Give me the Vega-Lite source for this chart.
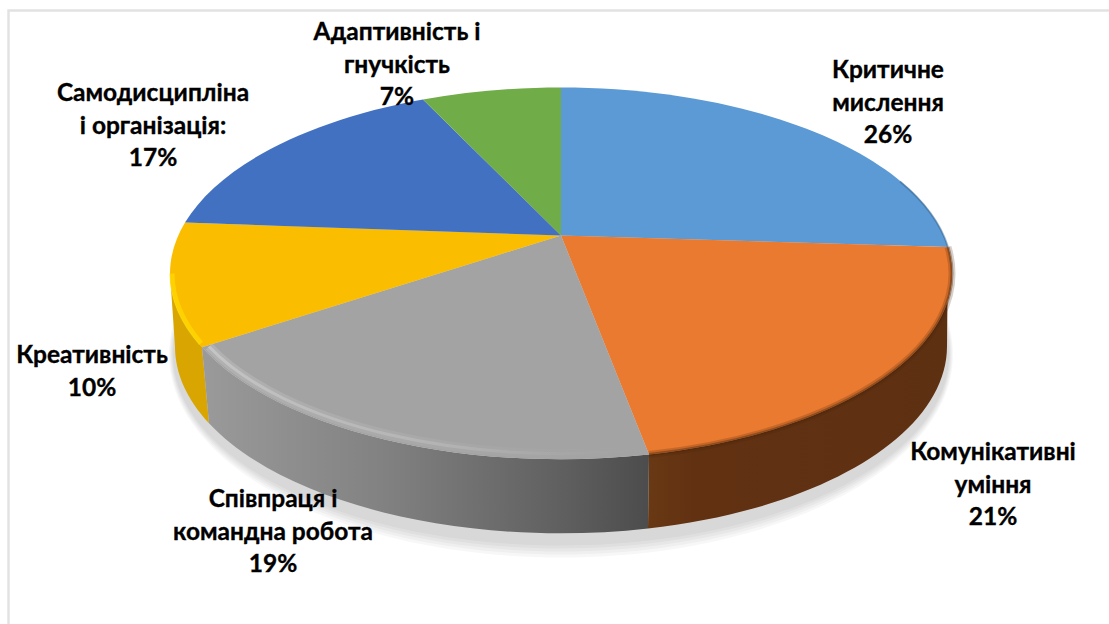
{
"$schema":"https://vega.github.io/schema/vega-lite/v6.json",
"width":1103,"height":616,
"autosize":{"type":"none"},
"padding":{"left":8.5,"top":10.5,"right":0,"bottom":0},
"background":"white",
"config":{"view":{"stroke":"#e2e2e2","strokeWidth":2.4}},
"data":{"values":[
{"skill":"Критичне мислення","share":26,"label":"Критичне\nмислення\n26%"},
{"skill":"Комунікативні уміння","share":21,"label":"Комунікативні\nуміння\n21%"},
{"skill":"Співпраця і командна робота","share":19,"label":"Співпраця і\nкомандна робота\n19%"},
{"skill":"Креативність","share":10,"label":"Креативність\n10%"},
{"skill":"Самодисципліна і організація","share":17,"label":"Самодисципліна\nі організація:\n17%"},
{"skill":"Адаптивність і гнучкість","share":7,"label":"Адаптивність і\nгнучкість\n7%"}
]},
"resolve":{"scale":{"shape":"independent","color":"independent"}},
"layer":[
{"transform":[{"filter":"datum.share==26"}],
 "mark":{"type":"point","filled":true,"size":4,"opacity":0.03,"fill":"#000000","stroke":null},
 "encoding":{"shape":{"field":"skill","legend":null,"scale":{"domain":["Критичне мислення"],"range":["M-391,36A392 203 0 1 1 393,36A392 203 0 1 1 -391,36Z"]}}}},
{"transform":[{"filter":"datum.share==26"}],
 "mark":{"type":"point","filled":true,"size":4,"opacity":0.03,"fill":"#000000","stroke":null},
 "encoding":{"shape":{"field":"skill","legend":null,"scale":{"domain":["Критичне мислення"],"range":["M-390,36A391 200 0 1 1 392,36A391 200 0 1 1 -390,36Z"]}}}},
{"transform":[{"filter":"datum.share==26"}],
 "mark":{"type":"point","filled":true,"size":4,"opacity":0.03,"fill":"#000000","stroke":null},
 "encoding":{"shape":{"field":"skill","legend":null,"scale":{"domain":["Критичне мислення"],"range":["M-389,36A390 197 0 1 1 391,36A390 197 0 1 1 -389,36Z"]}}}},
{"transform":[{"filter":"datum.share==26"}],
 "mark":{"type":"point","filled":true,"size":4,"opacity":0.03,"fill":"#000000","stroke":null},
 "encoding":{"shape":{"field":"skill","legend":null,"scale":{"domain":["Критичне мислення"],"range":["M-388,36A389 194 0 1 1 390,36A389 194 0 1 1 -388,36Z"]}}}},
{"transform":[{"filter":"datum.share==26"}],
 "mark":{"type":"point","filled":true,"size":4,"opacity":0.03,"fill":"#000000","stroke":null},
 "encoding":{"shape":{"field":"skill","legend":null,"scale":{"domain":["Критичне мислення"],"range":["M-387,36A388 191 0 1 1 389,36A388 191 0 1 1 -387,36Z"]}}}},
{"transform":[{"filter":"datum.share==21"}],
 "mark":{"type":"point","filled":true,"size":4,"opacity":1,"stroke":null,
  "fill":{"gradient":"linear","x1":0,"x2":1,"y1":0,"y2":0,"stops":[{"offset":0,"color":"#693914"},{"offset":0.15,"color":"#613112"},{"offset":1,"color":"#5e3012"}]}},
 "encoding":{"shape":{"field":"skill","legend":null,"scale":{"domain":["Комунікативні уміння"],"range":["M388,-71.5A391 186 0 0 1 89,136L88,210A386 187 0 0 0 387,28Z"]}}}},
{"transform":[{"filter":"datum.share==10"}],
 "mark":{"type":"point","filled":true,"size":4,"opacity":1,"stroke":null,"fill":"#d9a500"},
 "encoding":{"shape":{"field":"skill","legend":null,"scale":{"domain":["Креативність"],"range":["M-358,28.7A391 186 0 0 1 -390,-45L-385,28A386 187 0 0 0 -351,104.7Z"]}}}},
{"transform":[{"filter":"datum.share==19"}],
 "mark":{"type":"point","filled":true,"size":4,"opacity":1,"stroke":null,
  "fill":{"gradient":"linear","x1":0,"x2":1,"y1":0,"y2":0,"stops":[{"offset":0,"color":"#9a9a9a"},{"offset":0.4,"color":"#828282"},{"offset":0.8,"color":"#606060"},{"offset":1,"color":"#4c4c4c"}]}},
 "encoding":{"shape":{"field":"skill","legend":null,"scale":{"domain":["Співпраця і командна робота"],"range":["M89,136A391 186 0 0 1 -358,28.7L-351,104.7A386 187 0 0 0 88,210Z"]}}}},
{"mark":{"type":"point","filled":true,"size":4,"opacity":1,"stroke":null},
 "encoding":{
  "shape":{"field":"skill","legend":null,"scale":{"domain":["Критичне мислення","Комунікативні уміння","Співпраця і командна робота","Креативність","Самодисципліна і організація","Адаптивність і гнучкість"],
   "range":["M1,-83L1,-231A391 186 0 0 1 388,-71.5Z","M1,-83L388,-71.5A391 186 0 0 1 89,136Z","M1,-83L89,136A391 186 0 0 1 -358,28.7Z","M1,-83L-358,28.7A391 186 0 0 1 -375,-96Z","M1,-83L-375,-96A391 186 0 0 1 -137,-219Z","M1,-83L-137,-219A391 186 0 0 1 1,-231Z"]}},
  "color":{"field":"skill","legend":null,"scale":{"domain":["Критичне мислення","Комунікативні уміння","Співпраця і командна робота","Креативність","Самодисципліна і організація","Адаптивність і гнучкість"],
   "range":["#5b9ad5","#ea7a30","#a3a3a3","#fbbd00","#4371c2","#70ac47"]}}}},
{"transform":[{"filter":"datum.share==21"}],
 "mark":{"type":"point","filled":false,"size":4,"opacity":0.22,"fill":null,"stroke":"#4a2408","strokeWidth":7},
 "encoding":{"shape":{"field":"skill","legend":null,"scale":{"domain":["Комунікативні уміння"],"range":["M388,-71.5A391 186 0 0 1 89,136"]}}}},
{"transform":[{"filter":"datum.share==21"}],
 "mark":{"type":"point","filled":false,"size":4,"opacity":0.4,"fill":null,"stroke":"#4a2408","strokeWidth":3},
 "encoding":{"shape":{"field":"skill","legend":null,"scale":{"domain":["Комунікативні уміння"],"range":["M388,-71.5A391 186 0 0 1 89,136"]}}}},
{"transform":[{"filter":"datum.share==26"}],
 "mark":{"type":"point","filled":false,"size":4,"opacity":0.45,"fill":null,"stroke":"#2f5c85","strokeWidth":2},
 "encoding":{"shape":{"field":"skill","legend":null,"scale":{"domain":["Критичне мислення"],"range":["M340,-137A391 186 0 0 1 388,-71.5"]}}}},
{"transform":[{"filter":"datum.share==19"}],
 "mark":{"type":"point","filled":false,"size":4,"opacity":1,"fill":null,"strokeWidth":9,
  "stroke":{"gradient":"linear","x1":0,"x2":1,"y1":0,"y2":0,"stops":[{"offset":0,"color":"rgba(215,215,215,0.28)"},{"offset":0.55,"color":"rgba(195,195,195,0.14)"},{"offset":1,"color":"rgba(170,170,170,0)"}]}},
 "encoding":{"shape":{"field":"skill","legend":null,"scale":{"domain":["Співпраця і командна робота"],"range":["M87,130.6A385 180 0 0 1 -351,28"]}}}},
{"transform":[{"filter":"datum.share==19"}],
 "mark":{"type":"point","filled":false,"size":4,"opacity":1,"fill":null,"strokeWidth":3,
  "stroke":{"gradient":"linear","x1":0,"x2":1,"y1":0,"y2":0,"stops":[{"offset":0,"color":"rgba(225,225,225,0.4)"},{"offset":0.55,"color":"rgba(205,205,205,0.3)"},{"offset":1,"color":"rgba(170,170,170,0)"}]}},
 "encoding":{"shape":{"field":"skill","legend":null,"scale":{"domain":["Співпраця і командна робота"],"range":["M87,130.6A385 180 0 0 1 -351,28"]}}}},
{"transform":[{"filter":"datum.share==10"}],
 "mark":{"type":"point","filled":false,"size":4,"opacity":0.7,"fill":null,"stroke":"#ffdb00","strokeWidth":5},
 "encoding":{"shape":{"field":"skill","legend":null,"scale":{"domain":["Креативність"],"range":["M-359,24.8A389 184 0 0 1 -388,-45"]}}}},
{"mark":{"type":"text","font":"Lato","fontWeight":"bold","fontSize":24.5,"lineHeight":32.5,"lineBreak":"\n","align":"center","baseline":"middle","color":"#000000","stroke":"#000000","strokeWidth":0.35},
 "encoding":{
  "text":{"field":"label"},
  "x":{"field":"share","type":"quantitative","axis":null,"scale":{"zero":false,"nice":false,"domain":[7,10,17,19,21,26],"range":[388.5,83.5,144.5,264.5,984.5,879.5]}},
  "y":{"field":"share","type":"quantitative","axis":null,"scale":{"zero":false,"nice":false,"domain":[7,10,17,19,21,26],"range":[22.5,345.5,83.5,489.5,442.5,60.5]}}}}
]
}
